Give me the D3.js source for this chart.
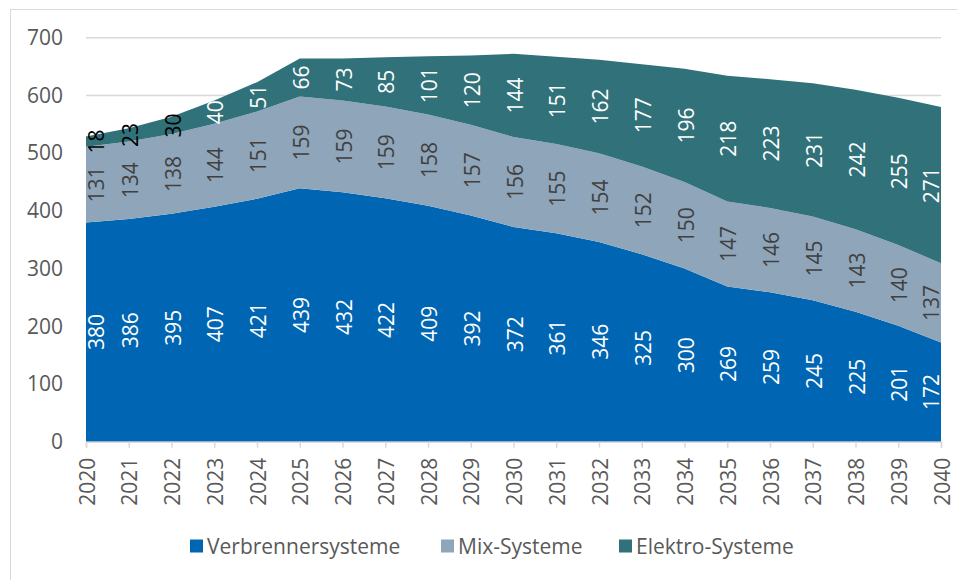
<!DOCTYPE html>
<html lang="de">
<head>
    <meta charset="UTF-8">
    <title>Systeme 2020-2040</title>
    <script src="https://d3js.org/d3.v7.min.js"></script>
    <style>
        body { margin: 0; background: white; }
        text { font-family: 'Open Sans', sans-serif; font-size: 21px; }
        .tick text { fill: #595959; }
    </style>
</head>
<body>
<script>
    const width = 957;
    const height = 580;

    const years = [2020, 2021, 2022, 2023, 2024, 2025, 2026, 2027, 2028, 2029, 2030,
                   2031, 2032, 2033, 2034, 2035, 2036, 2037, 2038, 2039, 2040];
    const verbrenner = [380, 386, 395, 407, 421, 439, 432, 422, 409, 392, 372,
                        361, 346, 325, 300, 269, 259, 245, 225, 201, 172];
    const mix = [131, 134, 138, 144, 151, 159, 159, 159, 158, 157, 156,
                 155, 154, 152, 150, 147, 146, 145, 143, 140, 137];
    const elektro = [18, 23, 30, 40, 51, 66, 73, 85, 101, 120, 144,
                     151, 162, 177, 196, 218, 223, 231, 242, 255, 271];
    const seriesNames = ['Verbrennersysteme', 'Mix-Systeme', 'Elektro-Systeme'];
    const yTicks = [0, 100, 200, 300, 400, 500, 600, 700];

    const colors = ['#0066b3', '#8fa5b9', '#30717a'];
    const labelColors = ['#ffffff', '#404040', '#ffffff'];

    const margin = {top: 37.7, right: 16, bottom: 138.3, left: 86};

    const rows = years.map((y, i) => ({year: y, v: verbrenner[i], m: mix[i], e: elektro[i]}));
    const keys = ['v', 'm', 'e'];
    const stacked = d3.stack().keys(keys)(rows);

    const svg = d3.select('body').append('svg').attr('width', width).attr('height', height);

    // outer frame
    svg.append('rect').attr('x', 10.5).attr('y', 9.5).attr('width', 960).attr('height', 600)
        .attr('fill', 'none').attr('stroke', '#d9d9d9');

    const x = d3.scaleLinear().domain([2020, 2040]).range([margin.left, width - margin.right]);
    const y = d3.scaleLinear().domain([0, 700]).range([height - margin.bottom, margin.top]);

    // gridlines
    svg.append('g').selectAll('line').data(yTicks.slice(1)).join('line')
        .attr('x1', x(2020)).attr('x2', x(2040))
        .attr('y1', d => y(d)).attr('y2', d => y(d))
        .attr('stroke', '#d9d9d9').attr('stroke-width', 1.5);

    // y axis labels
    const yAxis = svg.append('g').attr('transform', `translate(${margin.left},0)`)
        .call(d3.axisLeft(y).tickValues(yTicks).tickSize(0).tickPadding(23));
    yAxis.select('.domain').remove();
    yAxis.selectAll('text').attr('font-size', 21).attr('font-family', 'Open Sans, sans-serif');

    const area = d3.area()
        .x(d => x(d.data.year))
        .y0(d => y(d[0]))
        .y1(d => y(d[1]));

    svg.append('g').selectAll('path').data(stacked).join('path')
        .attr('d', area)
        .attr('fill', (d, i) => colors[i]);

    // x axis
    const xAxis = svg.append('g').attr('transform', `translate(0,${y(0)})`)
        .call(d3.axisBottom(x).tickValues(years).tickFormat(d3.format('d')).tickSize(6));
    xAxis.select('.domain').attr('stroke', '#d9d9d9').attr('stroke-width', 1.5);
    xAxis.selectAll('.tick line').attr('stroke', '#d9d9d9').attr('stroke-width', 1.5);
    xAxis.selectAll('text')
        .attr('font-size', 21).attr('font-family', 'Open Sans, sans-serif')
        .attr('text-anchor', 'end')
        .attr('dy', null).attr('y', 0)
        .attr('dominant-baseline', 'central')
        .attr('transform', 'translate(0,16) rotate(-90)');

    // data labels
    const lx = d => Math.max(x(2020) + 10, Math.min(x(2040) - 10, x(d.data.year) + 1));
    stacked.forEach((s, i) => {
        svg.append('g').selectAll('text').data(s).join('text')
            .attr('transform', d => `translate(${lx(d)},${y((d[0] + d[1]) / 2)}) rotate(-90)`)
            .attr('text-anchor', 'middle')
            .attr('dominant-baseline', 'central')
            .attr('fill', d => (i === 2 && d[1] - d[0] <= 30) ? '#000000' : labelColors[i])
            .text(d => d[1] - d[0]);
    });

    // legend
    const legendX = [190, 441, 619];
    const legend = svg.append('g').selectAll('g').data(seriesNames).join('g')
        .attr('transform', (d, i) => `translate(${legendX[i]},546)`);
    legend.append('rect').attr('x', 0).attr('y', -6.5).attr('width', 13).attr('height', 13)
        .attr('fill', (d, i) => colors[i]);
    legend.append('text').attr('x', 17).attr('y', 0).attr('dominant-baseline', 'central')
        .attr('fill', '#595959').text(d => d);
</script>
</body>
</html>
